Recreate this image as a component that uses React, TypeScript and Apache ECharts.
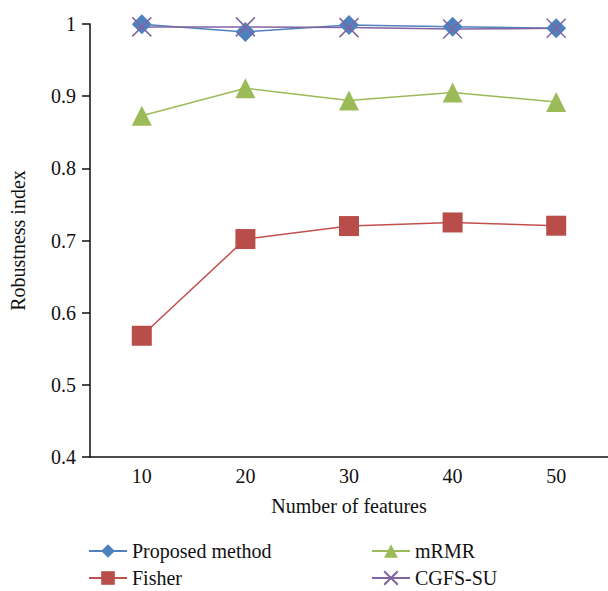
import React, { useEffect, useRef } from "react";
import * as echarts from "echarts";

const categories = ["10", "20", "30", "40", "50"];
const proposed = [0.9995, 0.989, 0.9986, 0.9963, 0.994];
const fisher = [0.568, 0.702, 0.72, 0.725, 0.7205];
const mrmr = [0.873, 0.911, 0.894, 0.905, 0.892];
const cgfs = [0.996, 0.996, 0.995, 0.993, 0.994];
const yTicks = { min: 0.4, max: 1, interval: 0.1 };

const FONT = "Liberation Serif";
const CROSS = "path://M0,0L10,10M10,0L0,10";

export default function App() {
  const ref = useRef<HTMLDivElement>(null);
  useEffect(() => {
    if (!ref.current) return;
    const chart = echarts.init(ref.current, null, { renderer: "svg" });
    const txt = { fontFamily: FONT, fontSize: 20, color: "#111" };
    const leg = (name: string, left: number, top: number) => ({
      data: [name],
      left,
      top,
      itemWidth: 38,
      itemHeight: 17,
      padding: 0,
      textStyle: txt,
    });
    chart.setOption({
      animation: false,
      textStyle: { fontFamily: FONT },
      grid: { left: 88, right: 0, top: 24, bottom: 134, containLabel: false },
      legend: [
        leg("Proposed method", 88, 541),
        leg("Fisher", 88, 568),
        leg("mRMR", 371, 541),
        leg("CGFS-SU", 371, 568),
      ],
      xAxis: {
        type: "category",
        data: categories,
        boundaryGap: true,
        name: "Number of features",
        nameLocation: "middle",
        nameGap: 39,
        nameTextStyle: txt,
        axisLine: { lineStyle: { color: "#111", width: 1.5 } },
        axisTick: { show: false },
        axisLabel: { ...txt, margin: 9 },
        splitLine: { show: false },
      },
      yAxis: {
        type: "value",
        min: yTicks.min,
        max: yTicks.max,
        interval: yTicks.interval,
        name: "Robustness index",
        nameLocation: "middle",
        nameGap: 62,
        nameTextStyle: txt,
        axisLine: { show: true, lineStyle: { color: "#111", width: 1.5 } },
        axisTick: { show: true, length: 8, lineStyle: { color: "#111", width: 1.5 } },
        axisLabel: { ...txt, margin: 14 },
        splitLine: { show: false },
      },
      series: [
        {
          name: "Proposed method",
          type: "line",
          data: proposed,
          symbol: "diamond",
          symbolSize: 20,
          lineStyle: { color: "#4F81BD", width: 1.5 },
          itemStyle: { color: "#4F81BD" },
        },
        {
          name: "Fisher",
          type: "line",
          data: fisher,
          symbol: "rect",
          symbolSize: 20,
          lineStyle: { color: "#C0504D", width: 1.5 },
          itemStyle: { color: "#B84D4A" },
        },
        {
          name: "mRMR",
          type: "line",
          data: mrmr,
          symbol: "triangle",
          symbolSize: 20,
          lineStyle: { color: "#9BBB59", width: 1.5 },
          itemStyle: { color: "#9BBB59" },
        },
        {
          name: "CGFS-SU",
          type: "line",
          data: cgfs,
          symbol: CROSS,
          symbolSize: 19,
          lineStyle: { color: "#8064A2", width: 1.5 },
          itemStyle: { color: "transparent", borderColor: "#8064A2", borderWidth: 1.5 },
        },
      ],
    });
    return () => chart.dispose();
  }, []);
  return <div ref={ref} style={{ width: 608, height: 591, position: "absolute", left: 0, top: 0 }} />;
}
